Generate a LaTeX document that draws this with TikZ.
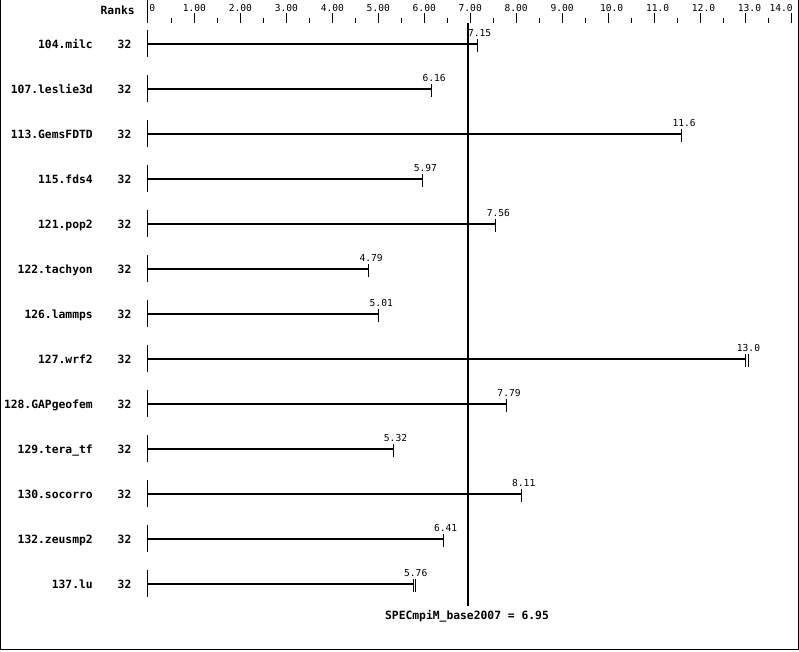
\documentclass[tikz,border=0pt]{standalone}
\usepackage{fontspec}
\setmonofont{DejaVu Sans Mono}
\begin{document}
\begin{tikzpicture}[x=0.75pt,y=-0.75pt,
		rowlabel/.style={font=\fontsize{8.5}{9}\ttfamily\bfseries, inner sep=0pt},
		numlabel/.style={font=\fontsize{7.2}{8}\ttfamily, inner sep=0pt},
		barline/.style={line width=2pt},
		thinline/.style={line width=0.75pt}]
		\useasboundingbox (0,0) rectangle (799,651);
		% frame, open at the top
		\draw[thinline] (0.5,0) -- (0.5,649.5) -- (798,649.5) -- (798,0);
		% scale along the top
		\node[rowlabel, anchor=base east] (ranks) at (135,14) {Ranks};
		\draw[thinline] (147,0) -- (147,23);
		\node[numlabel, anchor=base west] (t0) at (149,11) {0};
		\foreach \t [count=\i] in {1.00,2.00,3.00,4.00,5.00,6.00,7.00,8.00,9.00,10.0,11.0,12.0,13.0} {
			\draw[thinline] ({148.5+45.96*\i},13) -- ({148.5+45.96*\i},23);
			\ifnum\i<10
				\node[numlabel, anchor=base] at ({148.5+45.96*\i},11) {\t};
			\else
				\node[numlabel, anchor=base] at ({152+45.96*\i},11) {\t};
			\fi
		}
		\draw[thinline] ({148.5+45.96*14},13) -- ({148.5+45.96*14},23);
		\node[numlabel, anchor=base east] (t14) at (793,11) {14.0};
		\foreach \t in {0.5,1.5,...,13.5}
			\draw[thinline] ({148.5+45.96*\t},18) -- ({148.5+45.96*\t},23);
		% one row per benchmark: name, ranks, bar, end tick(s), value
		\foreach \name/\val/\valb [count=\i] in {
			104.milc/7.15/7.15, 107.leslie3d/6.16/6.16, 113.GemsFDTD/11.6/11.6,
			115.fds4/5.97/5.97, 121.pop2/7.56/7.56, 122.tachyon/4.79/4.79,
			126.lammps/5.01/5.01, 127.wrf2/13.0/13.05, 128.GAPgeofem/7.79/7.79,
			129.tera\_tf/5.32/5.32, 130.socorro/8.11/8.11, 132.zeusmp2/6.41/6.41,
			137.lu/5.76/5.81} {
			\pgfmathsetmacro{\y}{-1+45*\i}
			\node[rowlabel, anchor=base east] (name\i) at (93,\y+4) {\name};
			\node[rowlabel, anchor=base] (ranks\i) at (124.5,\y+4) {32};
			\draw[thinline] (147,\y-14) -- (147,\y+13);
			\draw[barline] (147,\y) -- ({148.5+45.96*\val},\y);
			\draw[thinline] ({148.5+45.96*\val},\y-5) -- ({148.5+45.96*\val},\y+8);
			\draw[thinline] ({148.5+45.96*\valb},\y-5) -- ({148.5+45.96*\valb},\y+8);
			\node[numlabel, anchor=base] (val\i) at ({151+45.96*\val},\y-8) {\val};
		}
		% overall result
		\draw[barline] ({148.5+45.96*6.95},23) -- ({148.5+45.96*6.95},606);
		\node[rowlabel, anchor=base] (result) at (467,619) {SPECmpiM\_base2007 = 6.95};
\end{tikzpicture}
\end{document}
